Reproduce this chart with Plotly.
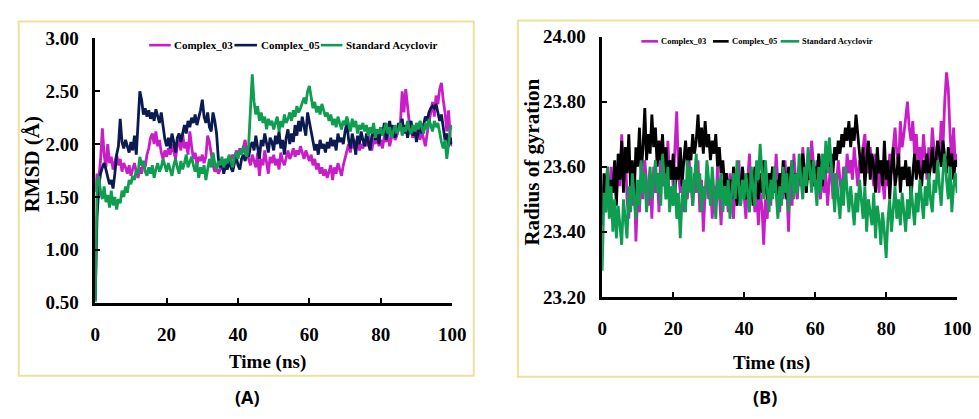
import plotly.graph_objects as go

time_ns = [i * 0.5 for i in range(201)]

rmsd_c03 = [
    1.55, 1.72, 1.68, 1.85, 2.15, 1.90, 1.78, 2.00, 1.82, 1.88,
    1.76, 1.84, 1.90, 1.80, 1.86, 1.74, 1.82, 1.78, 1.72, 1.80,
    1.70, 1.76, 1.82, 1.74, 1.68, 1.78, 1.72, 1.84, 1.78, 1.90,
    1.96, 2.06, 2.10, 2.00, 2.12, 1.98, 2.04, 1.92, 1.86, 1.94,
    1.88, 1.96, 1.90, 2.00, 1.92, 1.86, 1.98, 2.04, 1.94, 2.10,
    1.96, 2.02, 1.90, 2.12, 1.98, 1.86, 1.92, 1.80, 1.88, 1.84,
    1.90, 1.82, 1.88, 2.08, 2.02, 1.90, 1.80, 1.74, 1.78, 1.72,
    1.76, 1.80, 1.74, 1.78, 1.84, 1.80, 1.86, 1.90, 1.84, 1.94,
    1.88, 1.96, 1.90, 1.98, 2.04, 1.92, 1.86, 1.80, 1.90, 1.84,
    1.78, 1.92, 1.70, 1.86, 1.80, 1.94, 1.84, 1.72, 1.88, 1.82,
    1.90, 1.80, 1.86, 1.76, 1.92, 1.84, 1.80, 1.88, 1.94, 1.86,
    1.90, 1.96, 1.88, 1.94, 1.90, 1.98, 1.92, 1.86, 1.94, 1.88,
    1.84, 1.90, 1.80, 1.86, 1.76, 1.82, 1.72, 1.78, 1.70, 1.76,
    1.68, 1.74, 1.80, 1.66, 1.78, 1.72, 1.82, 1.76, 1.70, 1.80,
    1.86, 1.94, 2.00, 1.92, 2.04, 1.96, 2.02, 2.06, 1.94, 2.00,
    1.96, 2.04, 1.98, 2.08, 2.02, 1.94, 2.06, 2.00, 2.10, 1.98,
    2.04, 1.96, 2.08, 2.02, 2.10, 1.98, 2.06, 2.12, 2.04, 2.08,
    2.14, 2.20, 2.50, 2.30, 2.52, 2.36, 2.20, 2.12, 2.06, 2.14,
    2.08, 2.16, 2.04, 2.12, 2.06, 1.98, 2.10, 2.22, 2.30, 2.40,
    2.26, 2.46, 2.38, 2.52, 2.58, 2.42, 2.30, 2.12, 2.32, 2.04,
    1.98,
]

rmsd_c05 = [
    0.52, 1.30, 1.60, 1.72, 1.78, 1.82, 1.76, 1.70, 1.62, 1.66,
    1.58, 1.72, 1.90, 1.98, 2.24, 2.02, 1.96, 2.04, 1.98, 1.92,
    2.02, 1.94, 2.08, 1.90, 2.20, 2.50, 2.42, 2.28, 2.34, 2.26,
    2.32, 2.24, 2.30, 2.22, 2.33, 2.27, 2.20, 2.30, 2.15, 2.05,
    1.98, 2.06, 1.96, 2.10, 2.02, 1.92, 2.06, 2.10, 2.02, 2.12,
    2.18, 2.10, 2.22, 2.16, 2.25, 2.20, 2.28, 2.18, 2.24, 2.32,
    2.42, 2.26, 2.20, 2.30, 2.16, 2.12, 2.30, 2.22, 2.10, 1.86,
    1.78, 1.84, 1.72, 1.80, 1.76, 1.86, 1.78, 1.74, 1.82, 1.88,
    1.80, 1.76, 1.86, 1.90, 1.84, 1.92, 1.88, 1.98, 2.02, 1.94,
    2.08, 1.96, 1.86, 2.04, 1.98, 2.10, 2.00, 1.92, 2.06, 2.02,
    1.94, 2.08, 2.00, 2.12, 1.96, 2.04, 1.90, 2.06, 2.14, 2.00,
    2.10, 2.02, 2.18, 2.08, 2.22, 2.12, 2.26, 2.16, 2.08, 2.30,
    2.20, 2.10, 2.02, 1.94, 2.00, 1.90, 2.04, 1.96, 2.00, 1.92,
    2.02, 1.96, 2.06, 1.98, 2.04, 1.94, 2.10, 2.02, 2.06, 2.00,
    2.12, 2.20, 2.04, 1.96, 2.10, 2.02, 1.90, 2.08, 2.00, 2.12,
    2.04, 1.98, 2.10, 2.02, 1.94, 2.08, 2.14, 2.04, 2.12, 2.00,
    2.16, 2.08, 2.20, 2.04, 2.14, 2.22, 2.10, 2.18, 2.06, 2.12,
    2.20, 2.14, 2.24, 2.10, 2.18, 2.06, 2.16, 2.22, 2.08, 2.14,
    2.02, 2.12, 2.20, 2.10, 2.18, 2.26, 2.22, 2.30, 2.34, 2.36,
    2.34, 2.38, 2.30, 2.22, 2.28, 2.14, 2.04, 2.10, 1.98, 2.06,
    2.00,
]

rmsd_acv = [
    0.50, 1.62, 1.70, 1.55, 1.48, 1.60, 1.45, 1.52, 1.40, 1.56,
    1.42, 1.50, 1.38, 1.48, 1.44, 1.56, 1.50, 1.60, 1.54, 1.66,
    1.62, 1.70, 1.66, 1.76, 1.72, 1.88, 1.80, 1.84, 1.74, 1.70,
    1.78, 1.72, 1.80, 1.68, 1.76, 1.82, 1.74, 1.78, 1.86, 1.80,
    1.74, 1.82, 1.76, 1.70, 1.80, 1.86, 1.78, 1.72, 1.84, 1.76,
    1.82, 1.90, 1.78, 1.84, 1.88, 1.80, 1.74, 1.82, 1.68, 1.78,
    1.72, 1.80, 1.66, 1.76, 1.86, 1.78, 1.92, 1.82, 1.76, 1.84,
    1.80, 1.88, 1.78, 1.86, 1.82, 1.90, 1.84, 1.78, 1.88, 1.92,
    1.86, 1.94, 1.90, 1.98, 1.92, 1.88, 2.00, 2.30, 2.66, 2.40,
    2.28, 2.36, 2.22, 2.30, 2.20, 2.26, 2.14, 2.24, 2.18, 2.22,
    2.14, 2.20, 2.26, 2.12, 2.22, 2.16, 2.28, 2.20, 2.24, 2.30,
    2.22, 2.32, 2.26, 2.36, 2.30, 2.34, 2.40, 2.44, 2.38, 2.50,
    2.55, 2.42, 2.34, 2.40, 2.30, 2.36, 2.28, 2.38, 2.32, 2.26,
    2.30, 2.22, 2.28, 2.18, 2.24, 2.16, 2.26, 2.20, 2.14, 2.22,
    2.18, 2.26, 2.20, 2.12, 2.24, 2.16, 2.22, 2.10, 2.18, 2.14,
    2.20, 2.12, 2.18, 2.08, 2.16, 2.10, 2.20, 2.06, 2.14, 2.10,
    2.16, 2.08, 2.14, 2.20, 2.10, 2.16, 2.06, 2.12, 2.18, 2.10,
    2.14, 2.20, 2.08, 2.16, 2.12, 2.22, 2.14, 2.10, 2.18, 2.12,
    2.20, 2.14, 2.22, 2.16, 2.10, 2.20, 2.14, 2.24, 2.18, 2.12,
    2.22, 2.16, 2.20, 2.10, 2.02, 1.96, 2.04, 1.86, 2.00, 2.14,
    2.18,
]

rog_c03 = [
    23.44, 23.52, 23.46, 23.56, 23.48, 23.60, 23.52, 23.58, 23.50, 23.62,
    23.54, 23.70, 23.58, 23.66, 23.50, 23.44, 23.56, 23.48, 23.60, 23.37,
    23.52, 23.46, 23.58, 23.50, 23.62, 23.54, 23.48, 23.56, 23.44, 23.60,
    23.52, 23.58, 23.46, 23.66, 23.54, 23.60, 23.50, 23.68, 23.56, 23.62,
    23.54, 23.66, 23.77, 23.58, 23.52, 23.60, 23.46, 23.56, 23.50, 23.62,
    23.54, 23.48, 23.58, 23.52, 23.62, 23.46, 23.56, 23.40, 23.52, 23.58,
    23.50, 23.56, 23.44, 23.54, 23.48, 23.60, 23.52, 23.42, 23.56, 23.50,
    23.54, 23.46, 23.58, 23.50, 23.44, 23.56, 23.52, 23.62, 23.48, 23.58,
    23.52, 23.44, 23.56, 23.64, 23.50, 23.58, 23.46, 23.54, 23.42, 23.52,
    23.48, 23.36, 23.50, 23.44, 23.56, 23.48, 23.60, 23.52, 23.64, 23.54,
    23.46, 23.56, 23.50, 23.62, 23.54, 23.40, 23.58, 23.48, 23.64, 23.56,
    23.50, 23.60, 23.54, 23.66, 23.58, 23.52, 23.64, 23.56, 23.68, 23.60,
    23.54, 23.62, 23.56, 23.50, 23.60, 23.52, 23.58, 23.48, 23.56, 23.62,
    23.50, 23.58, 23.54, 23.62, 23.56, 23.50, 23.60, 23.54, 23.64, 23.58,
    23.62, 23.56, 23.66, 23.60, 23.54, 23.62, 23.58, 23.66, 23.70, 23.62,
    23.58, 23.66, 23.60, 23.54, 23.64, 23.58, 23.52, 23.62, 23.56, 23.50,
    23.60, 23.54, 23.64, 23.58, 23.66, 23.72, 23.64, 23.60, 23.74, 23.66,
    23.70, 23.76, 23.80, 23.72, 23.68, 23.74, 23.64, 23.70, 23.60, 23.66,
    23.58, 23.70, 23.62, 23.56, 23.66, 23.60, 23.72, 23.64, 23.58, 23.68,
    23.62, 23.74, 23.66, 23.80, 23.89, 23.84, 23.70, 23.62, 23.72, 23.60,
    23.64,
]

rog_c05 = [
    23.42, 23.58, 23.50, 23.60, 23.46, 23.56, 23.52, 23.62, 23.48, 23.64,
    23.56, 23.68, 23.52, 23.66, 23.58, 23.70, 23.54, 23.62, 23.50, 23.66,
    23.60, 23.72, 23.58, 23.66, 23.78, 23.62, 23.70, 23.64, 23.76, 23.66,
    23.72, 23.60, 23.68, 23.62, 23.70, 23.58, 23.66, 23.54, 23.62, 23.56,
    23.64, 23.52, 23.60, 23.56, 23.66, 23.54, 23.62, 23.68, 23.60, 23.66,
    23.62, 23.70, 23.64, 23.68, 23.76, 23.66, 23.72, 23.64, 23.74, 23.66,
    23.70, 23.62, 23.68, 23.64, 23.70, 23.60, 23.66, 23.58, 23.62, 23.54,
    23.58, 23.52, 23.56, 23.50, 23.60, 23.54, 23.48, 23.56, 23.52, 23.60,
    23.54, 23.50, 23.58, 23.52, 23.56, 23.48, 23.60, 23.54, 23.50, 23.58,
    23.52, 23.62, 23.56, 23.50, 23.58, 23.54, 23.60, 23.52, 23.56, 23.48,
    23.58, 23.52, 23.62, 23.54, 23.50, 23.60, 23.56, 23.62, 23.52, 23.58,
    23.54, 23.60, 23.56, 23.64, 23.58, 23.52, 23.60, 23.56, 23.62, 23.54,
    23.60, 23.56, 23.64, 23.58, 23.54, 23.62, 23.58, 23.66, 23.60, 23.64,
    23.58, 23.66, 23.62, 23.68, 23.64, 23.70, 23.66, 23.72, 23.68, 23.74,
    23.66, 23.72, 23.68, 23.76, 23.70, 23.64, 23.58, 23.66, 23.54, 23.62,
    23.68, 23.56, 23.64, 23.60, 23.52, 23.66, 23.58, 23.62, 23.54, 23.68,
    23.56, 23.62, 23.50, 23.60, 23.66, 23.54, 23.58, 23.64, 23.52, 23.60,
    23.56, 23.62, 23.54, 23.60, 23.50, 23.58, 23.64, 23.56, 23.62, 23.58,
    23.54, 23.62, 23.58, 23.64, 23.56, 23.60, 23.66, 23.58, 23.62, 23.68,
    23.64, 23.60, 23.68, 23.62, 23.58, 23.66, 23.60, 23.64, 23.56, 23.62,
    23.60,
]

rog_acv = [
    23.28, 23.52, 23.46, 23.60, 23.44, 23.54, 23.40, 23.50, 23.38, 23.48,
    23.42, 23.36, 23.50, 23.44, 23.38, 23.54, 23.46, 23.58, 23.50, 23.44,
    23.56, 23.48, 23.62, 23.52, 23.58, 23.46, 23.54, 23.60, 23.50, 23.56,
    23.62, 23.52, 23.58, 23.48, 23.64, 23.56, 23.50, 23.60, 23.46, 23.54,
    23.48, 23.56, 23.44, 23.52, 23.38, 23.50, 23.56, 23.46, 23.62, 23.52,
    23.60, 23.48, 23.56, 23.64, 23.52, 23.58, 23.46, 23.54, 23.50, 23.62,
    23.56, 23.48, 23.60, 23.52, 23.44, 23.56, 23.50, 23.58, 23.46, 23.54,
    23.48, 23.56, 23.44, 23.52, 23.58, 23.50, 23.62, 23.54, 23.48, 23.56,
    23.50, 23.58, 23.52, 23.46, 23.60, 23.54, 23.48, 23.62, 23.56, 23.67,
    23.58, 23.50, 23.62, 23.54, 23.46, 23.56, 23.50, 23.60, 23.52, 23.44,
    23.54, 23.48, 23.60, 23.52, 23.58, 23.46, 23.56, 23.62, 23.50, 23.58,
    23.52, 23.64, 23.56, 23.50, 23.60, 23.54, 23.66, 23.58, 23.52, 23.62,
    23.56, 23.48, 23.60, 23.52, 23.64, 23.56, 23.68, 23.58, 23.69, 23.60,
    23.54, 23.46, 23.58, 23.50, 23.44, 23.56, 23.48, 23.60, 23.52, 23.46,
    23.54, 23.48, 23.42, 23.52, 23.46, 23.56, 23.50, 23.44, 23.54, 23.40,
    23.50, 23.46, 23.42, 23.52, 23.38, 23.48, 23.44, 23.36, 23.46, 23.40,
    23.32, 23.44, 23.50, 23.40, 23.48, 23.54, 23.44, 23.50, 23.42, 23.52,
    23.46, 23.40, 23.50, 23.44, 23.54, 23.48, 23.42, 23.52, 23.46, 23.56,
    23.50, 23.44, 23.54, 23.48, 23.58, 23.50, 23.46, 23.56, 23.52, 23.62,
    23.54, 23.48, 23.58, 23.64, 23.56, 23.50, 23.60, 23.46, 23.54, 23.58,
    23.52,
]

x_ticks = [0, 20, 40, 60, 80, 100]
rmsd_ticks = [0.5, 1.0, 1.5, 2.0, 2.5, 3.0]
rog_ticks = [23.2, 23.4, 23.6, 23.8, 24.0]

names = ["Complex_03", "Complex_05", "Standard Acyclovir"]
colors_a = ["#c81ec8", "#0b1a50", "#0f9d50"]
colors_b = ["#c81ec8", "#000000", "#0f9d50"]

W, H = 979, 419
SERIF = "Liberation Serif, Times New Roman, serif"
LINE_W = 2.8


def px_x(p):
    return p / W


def px_y(p):
    return 1 - p / H


fig = go.Figure()

for name, ys, col in zip(names, [rmsd_c03, rmsd_c05, rmsd_acv], colors_a):
    fig.add_trace(go.Scatter(x=time_ns, y=ys, mode="lines", name=name,
                             line=dict(color=col, width=LINE_W),
                             xaxis="x", yaxis="y", showlegend=False))
for name, ys, col in zip(names, [rog_c03, rog_c05, rog_acv], colors_b):
    fig.add_trace(go.Scatter(x=time_ns, y=ys, mode="lines", name=name,
                             line=dict(color=col, width=LINE_W),
                             xaxis="x2", yaxis="y2", showlegend=False))


def axis_common():
    return dict(showgrid=False, zeroline=False, showline=True, linecolor="black",
                linewidth=2.5, ticks="inside", ticklen=5, tickwidth=2,
                tickcolor="black",
                tickfont=dict(family=SERIF, size=19, color="black"))


def bold(labels):
    return [f"<b>{s}</b>" for s in labels]


shapes = [
    dict(type="rect", xref="paper", yref="paper", x0=px_x(14), x1=px_x(478),
         y0=px_y(385), y1=px_y(12), line=dict(color="#ece29c", width=2), layer="below"),
    dict(type="rect", xref="paper", yref="paper", x0=px_x(523), x1=1.02,
         y0=px_y(386), y1=px_y(11), line=dict(color="#ece29c", width=2), layer="below"),
]

annotations = [
    dict(text="<b>RMSD (Å)</b>", xref="paper", yref="paper", x=px_x(27), y=px_y(162),
         textangle=-90, showarrow=False, xanchor="center", yanchor="middle",
         font=dict(family=SERIF, size=21, color="black")),
    dict(text="<b>Time (ns)</b>", xref="paper", yref="paper", x=px_x(268), y=px_y(371),
         showarrow=False, xanchor="center", yanchor="middle",
         font=dict(family=SERIF, size=19, color="black")),
    dict(text="<b>Radius of gyration</b>", xref="paper", yref="paper", x=px_x(537), y=px_y(160),
         textangle=-90, showarrow=False, xanchor="center", yanchor="middle",
         font=dict(family=SERIF, size=21, color="black")),
    dict(text="<b>Time (ns)</b>", xref="paper", yref="paper", x=px_x(782), y=px_y(372),
         showarrow=False, xanchor="center", yanchor="middle",
         font=dict(family=SERIF, size=19, color="black")),
    dict(text="<b>(A)</b>", xref="paper", yref="paper", x=px_x(247), y=px_y(407),
         showarrow=False, xanchor="center", yanchor="middle",
         font=dict(family="Open Sans", size=18, color="black")),
    dict(text="<b>(B)</b>", xref="paper", yref="paper", x=px_x(775), y=px_y(407),
         showarrow=False, xanchor="center", yanchor="middle",
         font=dict(family="Open Sans", size=18, color="black")),
]

# legend keys: (line start, line end, text start) in pixels, y in pixels, font size
legend_a = dict(y=37, size=11, items=[(147, 169, 171), (234, 257, 260), (322, 344, 347)])
legend_b = dict(y=33, size=8.5, items=[(649, 666, 668), (722, 738, 740), (791, 810, 812)])

for leg, cols in ((legend_a, colors_a), (legend_b, colors_b)):
    for (x0, x1, xt), col, name in zip(leg["items"], cols, names):
        shapes.append(dict(type="line", xref="paper", yref="paper",
                           x0=px_x(x0), x1=px_x(x1), y0=px_y(leg["y"]), y1=px_y(leg["y"]),
                           line=dict(color=col, width=2.6)))
        annotations.append(dict(text=f"<b>{name}</b>", xref="paper", yref="paper",
                                x=px_x(xt), y=px_y(leg["y"]), showarrow=False,
                                xanchor="left", yanchor="middle", borderpad=0,
                                font=dict(family=SERIF, size=leg["size"], color="black")))

fig.update_layout(
    width=W, height=H,
    margin=dict(l=0, r=0, t=0, b=0),
    paper_bgcolor="white", plot_bgcolor="white",
    font=dict(family=SERIF, color="black"),
    xaxis=dict(domain=[px_x(92), px_x(456)], range=[0, 100], tickvals=x_ticks,
               ticktext=bold([str(v) for v in x_ticks]), anchor="y",
               ticklabelstandoff=13, **axis_common()),
    yaxis=dict(domain=[111 / H, 389 / H], range=[0.5, 3.0], tickvals=rmsd_ticks,
               ticktext=bold([f"{v:.2f}" for v in rmsd_ticks]), anchor="x",
               ticklabelstandoff=10, **axis_common()),
    xaxis2=dict(domain=[px_x(609), px_x(971)], range=[0, 100], tickvals=x_ticks,
                ticktext=bold([str(v) for v in x_ticks]), anchor="y2",
                ticklabelstandoff=13, **axis_common()),
    yaxis2=dict(domain=[117 / H, 391 / H], range=[23.2, 24.0], tickvals=rog_ticks,
                ticktext=bold([f"{v:.2f}" for v in rog_ticks]), anchor="x2",
                ticklabelstandoff=10, **axis_common()),
    shapes=shapes,
    annotations=annotations,
)

fig.write_html("out.html")
